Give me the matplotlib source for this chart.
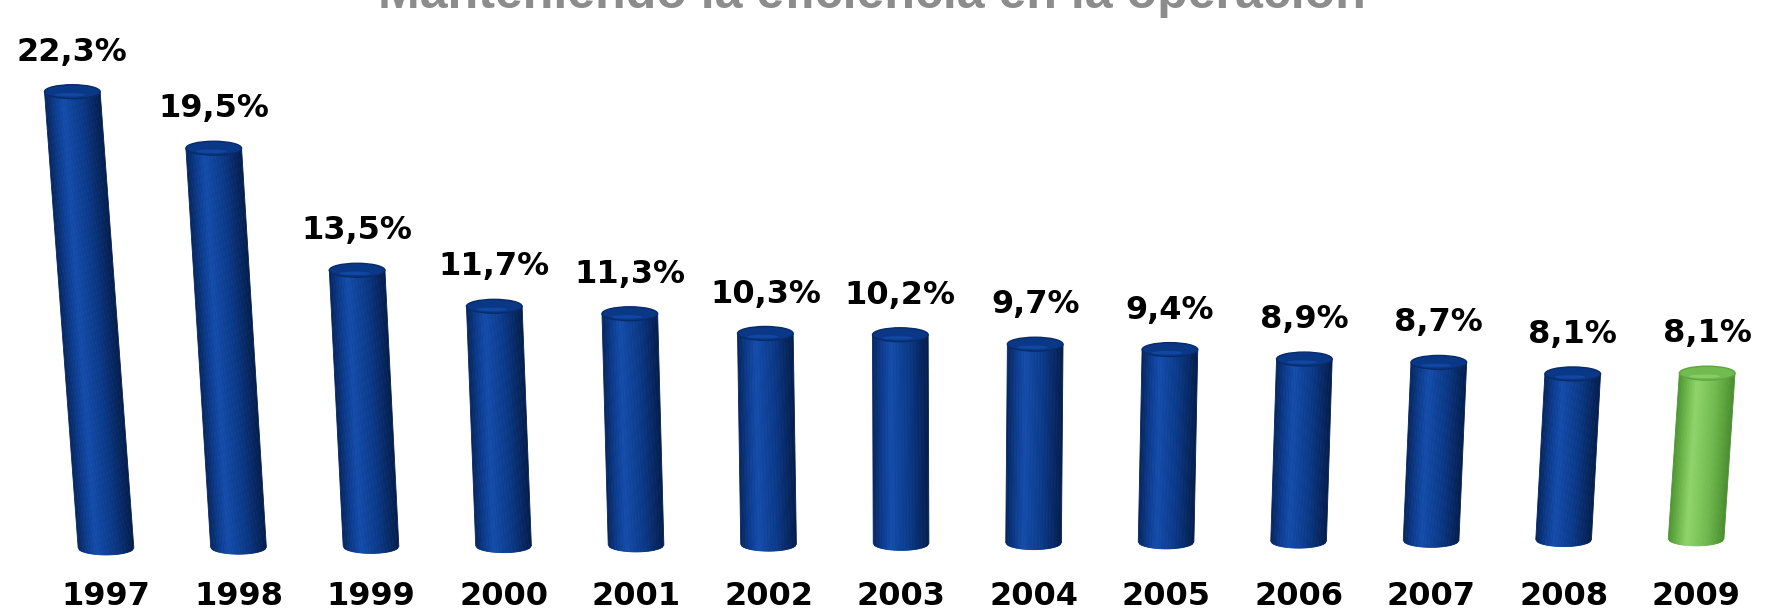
import numpy as np
from matplotlib import pyplot as plt
from matplotlib.patches import Polygon, Ellipse
from matplotlib.colors import to_rgb

anios = ['1997', '1998', '1999', '2000', '2001', '2002', '2003',
         '2004', '2005', '2006', '2007', '2008', '2009']
valores = [22.3, 19.5, 13.5, 11.7, 11.3, 10.3, 10.2, 9.7, 9.4, 8.9, 8.7, 8.1, 8.1]
etiquetas = ['22,3%', '19,5%', '13,5%', '11,7%', '11,3%', '10,3%', '10,2%',
             '9,7%', '9,4%', '8,9%', '8,7%', '8,1%', '8,1%']
titulo = 'Manteniendo la eficiencia en la operación'

# sombreado del cilindro (izquierda -> derecha)
azul = ['#05245c', '#0b3b8c', '#134caa', '#0e4299', '#0a3886', '#072b69', '#041d4c']
verde = ['#4c9332', '#6db64a', '#8fd46b', '#80c85c', '#72bb50', '#5ea63e', '#4a8c31']

ancho = 0.42
semi = 0.34          # semieje del elipse de la tapa
centro = 6.3         # punto de fuga horizontal
inclina = 0.00181    # inclinacion por perspectiva
suelo = 0.037        # el suelo sube un poco hacia la derecha


def color_en(paleta, t):
    cols = np.array([to_rgb(c) for c in paleta])
    pos = np.linspace(0, 1, len(cols))
    return tuple(np.interp(t, pos, cols[:, k]) for k in range(3))


def cilindro(ax, i, v, paleta):
    b = suelo * i
    xb = i
    xt = i + inclina * (i - centro) * v
    n = 36
    for j in range(n):
        t0, t1 = j / n, (j + 1) / n
        yb0 = b - semi * np.sqrt(max(0, 1 - (2 * t0 - 1) ** 2))
        yb1 = b - semi * np.sqrt(max(0, 1 - (2 * t1 - 1) ** 2))
        pts = [(xb - ancho / 2 + t0 * ancho, yb0),
               (xb - ancho / 2 + t1 * ancho, yb1),
               (xt - ancho / 2 + t1 * ancho, b + v),
               (xt - ancho / 2 + t0 * ancho, b + v)]
        c = color_en(paleta, (t0 + t1) / 2)
        ax.add_patch(Polygon(pts, closed=True, facecolor=c, edgecolor=c,
                             lw=0.6, zorder=2))
    # tapa superior
    ax.add_patch(Ellipse((xt, b + v), ancho, 2 * semi, facecolor=paleta[4],
                         edgecolor=paleta[5], lw=1, zorder=3))
    ax.add_patch(Ellipse((xt - 0.02, b + v - semi * 0.45), ancho * 0.55, semi * 0.5,
                         facecolor=paleta[2], edgecolor='none', alpha=0.8, zorder=4))
    return xt, b + v


fig = plt.figure(figsize=(17.69, 6.11), dpi=100)
ax = fig.add_axes([0, 0, 1, 1])
ax.set_xlim(-0.80, 12.55)
ax.set_ylim(-3.08, 26.78)
ax.axis('off')

for i, v in enumerate(valores):
    paleta = verde if i == len(valores) - 1 else azul
    xt, ytop = cilindro(ax, i, v, paleta)
    ax.text(xt, ytop + semi + 1.17, etiquetas[i], ha='center', va='baseline',
            fontsize=23, fontweight='bold', color='black', zorder=5)
    ax.text(i, -2.38, anios[i], ha='center', va='center', fontsize=23,
            fontweight='bold', color='black')

fig.text(0.493, 1 - 8 / 611, titulo, ha='center', va='baseline', fontsize=36,
         fontweight='bold', color='#8c8c8c', family='Liberation Sans')

plt.savefig('out.png', dpi=100)
